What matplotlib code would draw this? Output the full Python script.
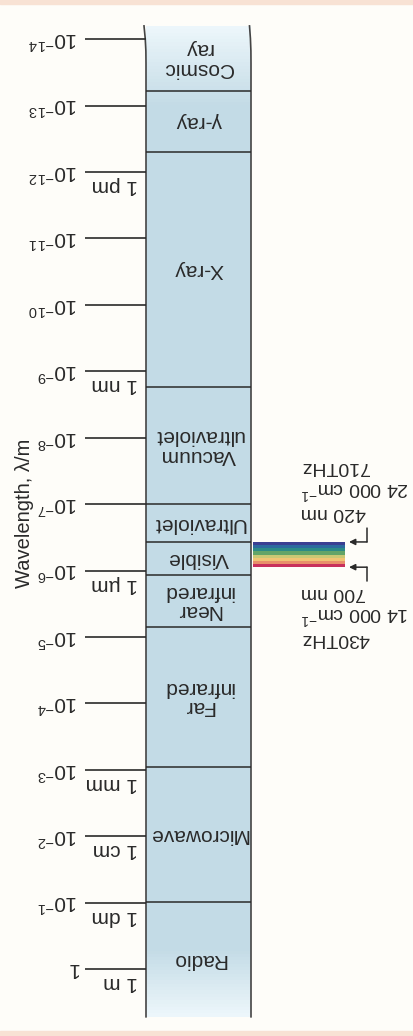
import numpy as np
import matplotlib
matplotlib.use("Agg")
import matplotlib.pyplot as plt
from matplotlib.patches import Rectangle

plt.rcParams['font.family'] = ['Liberation Sans', 'DejaVu Sans']
plt.rcParams['mathtext.fontset'] = 'custom'
plt.rcParams['mathtext.rm'] = 'Liberation Sans'
plt.rcParams['mathtext.it'] = 'Liberation Sans:italic'
plt.rcParams['mathtext.default'] = 'regular'

# wavelength scale, log10(lambda / m)
tick_exps = [0, -1, -2, -3, -4, -5, -6, -7, -8, -9, -10, -11, -12, -13, -14]
unit_exps = [0, -1, -2, -3, -6, -9, -12]
unit_names = ['1 m', '1 dm', '1 cm', '1 mm', '1 µm', '1 nm', '1 pm']

# regions, bottom to top, with their edges (log10 m)
region_names = ['Radio', 'Microwave', 'Far\ninfrared', 'Near\ninfrared', 'Visible',
                'Ultraviolet', 'Vacuum\nultraviolet', 'X-ray', 'γ-ray', 'Cosmic\nray']
region_edges = [0.72, -1.01, -3.04, -5.15, -5.93, -6.43, -7.0, -8.77, -12.30, -13.22, -14.2]

# visible spectrum strip (log10 m), colours from long to short wavelength
spec_long = -6.05
spec_short = -6.43
spec_colors = ['#c8305c', '#e8906a', '#f0c474', '#c9c874', '#62a468', '#2b8a86', '#2c6a9e', '#3a3f92']
spec_long_text = ['700 nm', '14 000 cm$^{-1}$', '430THz']
spec_short_text = ['420 nm', '24 000 cm$^{-1}$', '710THz']

ink = '#2a2a2a'
base = np.array([0.765, 0.858, 0.900])
light = np.array([0.93, 0.968, 0.985])

fig = plt.figure(figsize=(4.14, 10.36), dpi=100, facecolor='#fefdf9')
fig.patches.append(Rectangle((0, 0.996), 1, 0.004, transform=fig.transFigure, color='#f8e2d4', zorder=0))
fig.patches.append(Rectangle((0, 0), 1, 0.005, transform=fig.transFigure, color='#f8e2d4', zorder=0))
ax = fig.add_axes([0, 0, 1, 1])
ax.set_facecolor('none')
ax.set_xlim(0, 414)
ax.set_yscale('log')
ax.set_ylim(10 ** 1.009, 10 ** -14.59)
ax.axis('off')

xl, xr = 146, 251

# column fill with faded ends
ys = np.linspace(region_edges[-1], region_edges[0], 300)
for a, b in zip(ys[:-1], ys[1:]):
    m = (a + b) / 2
    t = 0.0
    if m < -13.0:
        t = (-13.0 - m) / 1.2
    elif m > -0.3:
        t = (m + 0.3) / 1.02
    t = min(max(t, 0), 1)
    c = base * (1 - t) + light * t
    ax.fill_betweenx([10 ** a, 10 ** b], xl, xr, color=c, lw=0, zorder=1)

# sides of the column, slightly bent at the top
top = region_edges[-1]
yy = np.linspace(top, region_edges[0], 80)
bend = np.clip((top + 0.5 - yy) / 0.5, 0, 1) ** 2
ax.plot(xl - 2 * bend, 10 ** yy, color='#444', lw=1.2, zorder=3)
ax.plot(xr - 1.5 * bend, 10 ** yy, color='#444', lw=1.2, zorder=3)

# region boundaries and names
ax.hlines([10 ** e for e in region_edges[1:-1]], xl, xr, color=ink, lw=1.1, zorder=3)
for name, lo, hi in zip(region_names, region_edges[:-1], region_edges[1:]):
    ax.text((xl + xr) / 2, 10 ** ((lo + hi) / 2), name, rotation=180, ha='center', va='center',
            fontsize=15, color=ink, linespacing=1.05, zorder=4)

# decade ticks and labels
ax.hlines([10.0 ** e for e in tick_exps], 85, xl, color=ink, lw=1.2, zorder=3)
for e in tick_exps:
    lab = '1' if e == 0 else '$10^{%d}$' % e
    ax.text(78, 10.0 ** e, lab, rotation=180, ha='right', va='center', fontsize=15, color=ink)
for e, u in zip(unit_exps, unit_names):
    ax.annotate(u, xy=(138, 10.0 ** e), xytext=(0, -3), textcoords='offset points',
                rotation=180, ha='right', va='top', fontsize=15, color=ink)

ax.text(25 / 414, 1 - 513 / 1036, 'Wavelength, λ/m', transform=ax.transAxes, rotation=90,
        ha='center', va='center', fontsize=14.5, color=ink)

# visible spectrum strip
edges = np.linspace(spec_long, spec_short, len(spec_colors) + 1)
for c, a, b in zip(spec_colors, edges[:-1], edges[1:]):
    ax.fill_betweenx([10 ** a, 10 ** b], xr + 2, 345, color=c, lw=0, zorder=2)

# arrows with brackets
for e, d in [(spec_short, 1), (spec_long, -1)]:
    ax.annotate('', xy=(349, 10 ** e), xytext=(367, 10 ** e),
                arrowprops=dict(arrowstyle='-|>', color=ink, lw=1.1, mutation_scale=9, shrinkA=0, shrinkB=0))
    ax.annotate('', xy=(367, 10 ** e), xytext=(0, d * 10), textcoords='offset points',
                arrowprops=dict(arrowstyle='-', color=ink, lw=1.1, shrinkA=0, shrinkB=0))

for i, s in enumerate(spec_short_text):
    ax.annotate(s, xy=(301, 10 ** spec_short), xytext=(0, 21 + i * 16.5), textcoords='offset points',
                rotation=180, ha='left', va='center', fontsize=14, color=ink)
for i, s in enumerate(spec_long_text):
    ax.annotate(s, xy=(301, 10 ** spec_long), xytext=(0, -18 - i * 16.5), textcoords='offset points',
                rotation=180, ha='left', va='center', fontsize=14, color=ink)

fig.savefig('out.png', dpi=100, facecolor=fig.get_facecolor())
